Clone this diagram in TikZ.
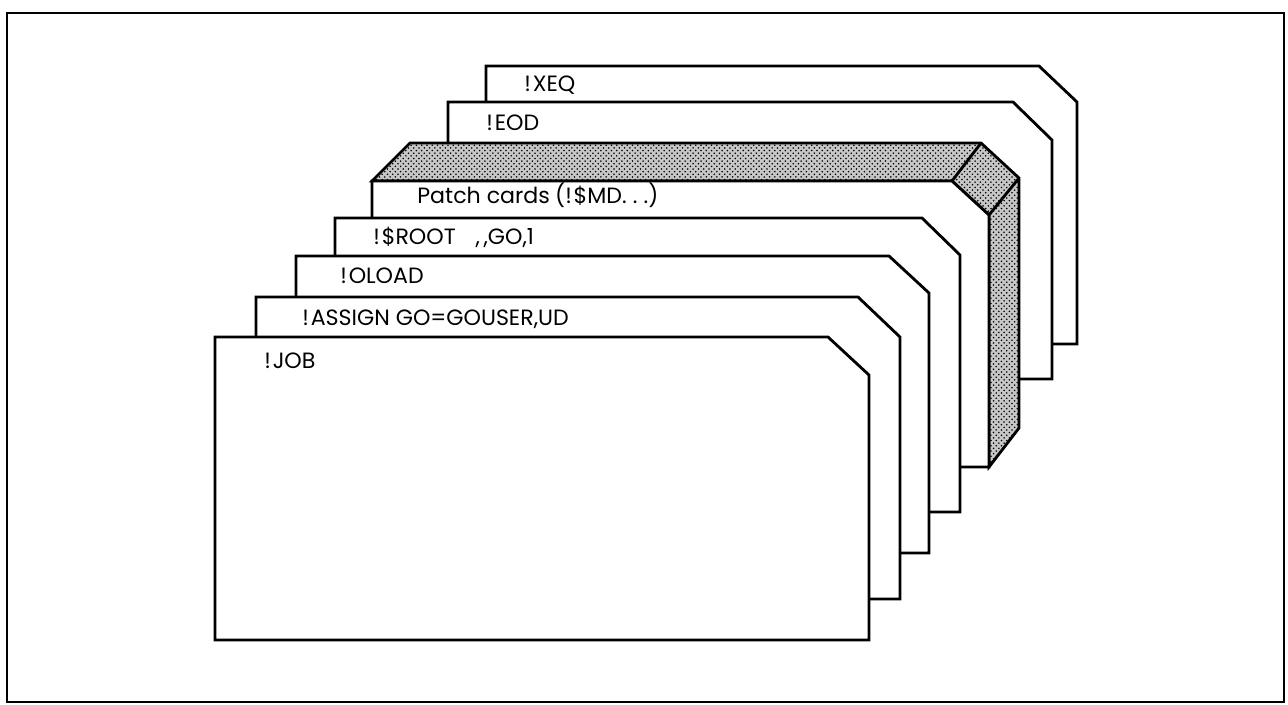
\documentclass[tikz,border=0pt]{standalone}
\usepackage{fontspec}
\setmainfont{Poppins}
\usetikzlibrary{patterns}

\begin{document}
\begin{tikzpicture}[x=0.02cm,y=-0.02cm,line width=1.6pt,line join=miter,
	card face/.style={draw,fill=white},
	deck side/.style={draw,fill=black!22,postaction={pattern=crosshatch dots}},
	card text/.style={anchor=base west,inner sep=0pt,font=\fontsize{12.6}{15}\selectfont}]
	
	\useasboundingbox (0,0) rectangle (1288,704);
	\draw (7,13) rectangle (1284,702);
	
	% cards, back to front
	\draw[card face] (486,344) -- (486,66) -- (1039,66) -- (1077,102) -- (1077,344) -- cycle;
	\draw[card face] (448,379) -- (448,102) -- (1013,102) -- (1052,140) -- (1052,379) -- cycle;
	
	% the patch deck
	\draw[deck side] (372,181) -- (410,143) -- (981,143) -- (1019,178) -- (1019,428)
	-- (989,467) -- (989,215) -- (952,181) -- cycle;
	\draw (952,181) -- (981,143) (989,215) -- (1019,178);
	\draw[card face] (372,467) -- (372,181) -- (952,181) -- (989,215) -- (989,467) -- cycle;
	
	\draw[card face] (335,512) -- (335,218) -- (922,218) -- (960,255) -- (960,512) -- cycle;
	\draw[card face] (296,553) -- (296,256) -- (889,256) -- (929,293) -- (929,553) -- cycle;
	\draw[card face] (256,599) -- (256,297) -- (858,297) -- (900,337) -- (900,599) -- cycle;
	\draw[card face] (215,640) -- (215,337) -- (828,337) -- (869,375) -- (869,640) -- cycle;
	
	\node[card text] (xeq) at (523,91) {!\kern1pt XEQ};
	\node[card text] (eod) at (485,130) {!\kern1pt EOD};
	\node[card text] (patch) at (416,203) {Patch cards\kern3pt(!\kern1pt\$MD.\kern3.5pt.\kern3.5pt.)};
	\node[card text] (root) at (372,244) {!\kern1pt\$ROOT\hspace{0.9em},\kern2pt,GO,1};
	\node[card text] (oload) at (339,283) {!\kern1pt OLOAD};
	\node[card text] (assign) at (301,325) {!\kern1pt ASSIGN GO=GOUSER,UD};
	\node[card text] (job) at (263,368) {!\kern1pt JOB};
\end{tikzpicture}
\end{document}
